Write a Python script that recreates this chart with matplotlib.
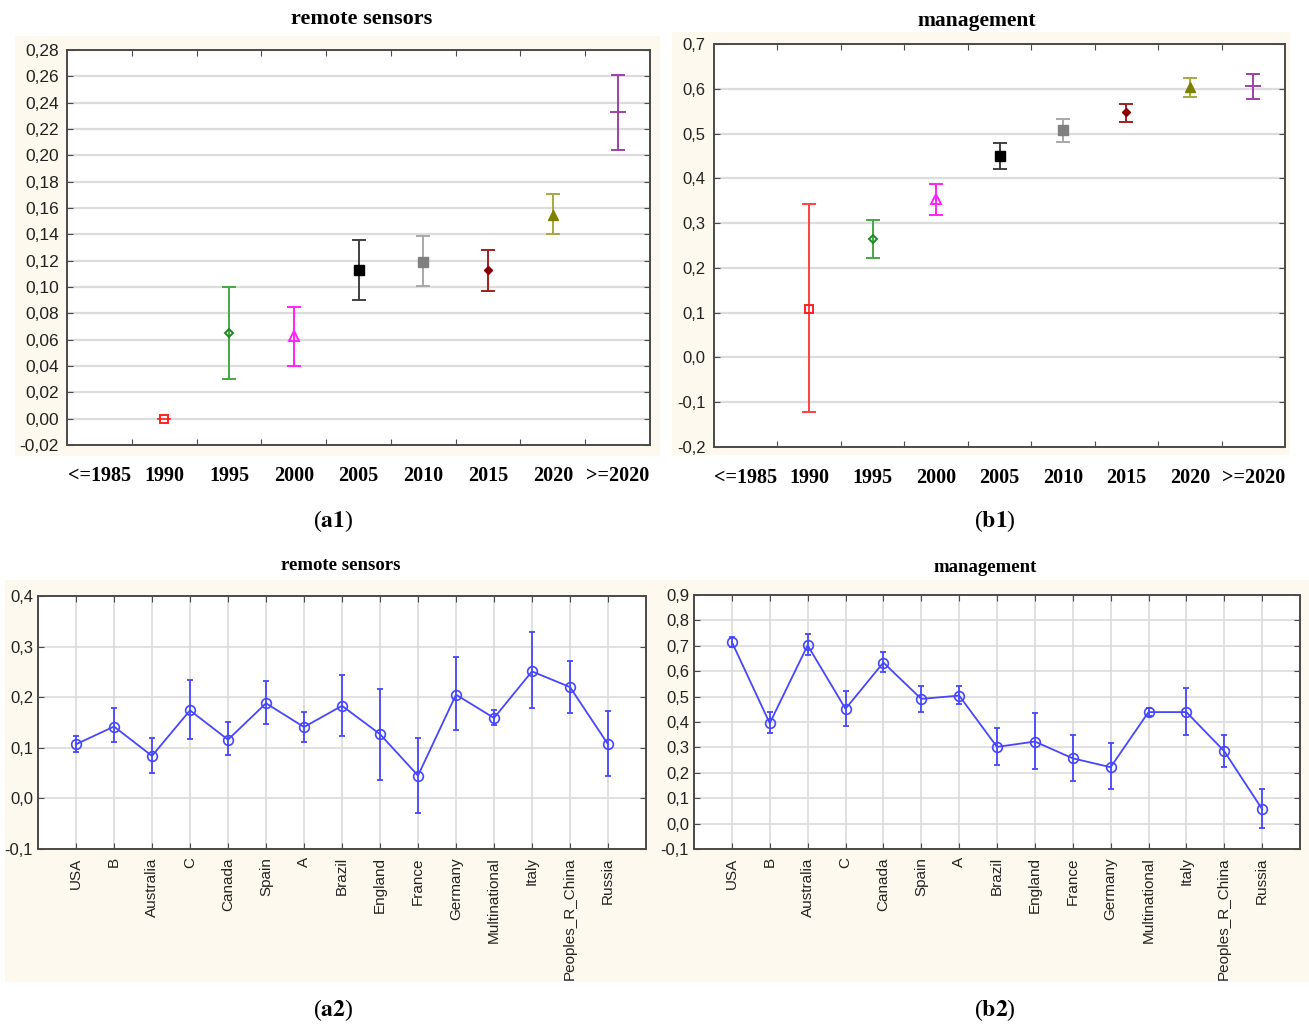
import matplotlib
matplotlib.use("Agg")
import matplotlib.pyplot as plt
import numpy as np
from matplotlib.patches import Rectangle
from matplotlib.ticker import FixedLocator, FuncFormatter

# ---- data ---------------------------------------------------------------
periods = ["<=1985", "1990", "1995", "2000", "2005", "2010", "2015", "2020", ">=2020"]
# periods that actually have a mean (index into periods)
period_idx = [1, 2, 3, 4, 5, 6, 7, 8]

sensors_mean = [0.000, 0.065, 0.063, 0.113, 0.119, 0.113, 0.155, 0.233]
sensors_low = [0.000, 0.030, 0.040, 0.090, 0.101, 0.097, 0.140, 0.204]
sensors_high = [0.000, 0.100, 0.085, 0.136, 0.139, 0.128, 0.171, 0.261]

mgmt_mean = [0.109, 0.265, 0.353, 0.449, 0.507, 0.548, 0.603, 0.607]
mgmt_low = [-0.121, 0.221, 0.318, 0.420, 0.482, 0.526, 0.582, 0.577]
mgmt_high = [0.343, 0.308, 0.388, 0.480, 0.533, 0.566, 0.623, 0.634]

countries = ["USA", "B", "Australia", "C", "Canada", "Spain", "A", "Brazil",
             "England", "France", "Germany", "Multinational", "Italy",
             "Peoples_R_China", "Russia"]

country_sensors_mean = [0.107, 0.142, 0.084, 0.174, 0.116, 0.188, 0.141, 0.183,
                        0.127, 0.045, 0.205, 0.159, 0.251, 0.220, 0.107]
country_sensors_low = [0.092, 0.111, 0.051, 0.118, 0.086, 0.147, 0.112, 0.123,
                       0.037, -0.028, 0.135, 0.145, 0.178, 0.168, 0.045]
country_sensors_high = [0.123, 0.178, 0.120, 0.234, 0.151, 0.232, 0.170, 0.243,
                        0.217, 0.119, 0.280, 0.175, 0.328, 0.272, 0.172]

country_mgmt_mean = [0.715, 0.395, 0.702, 0.452, 0.634, 0.491, 0.504, 0.302,
                     0.323, 0.257, 0.222, 0.439, 0.439, 0.285, 0.057]
country_mgmt_low = [0.697, 0.355, 0.664, 0.385, 0.596, 0.439, 0.470, 0.230,
                    0.216, 0.169, 0.136, 0.422, 0.348, 0.224, -0.017]
country_mgmt_high = [0.736, 0.440, 0.747, 0.524, 0.677, 0.541, 0.541, 0.378,
                     0.437, 0.350, 0.316, 0.457, 0.533, 0.350, 0.136]

# ---- styles -------------------------------------------------------------
# (line colour, marker, marker face, marker edge, marker size)
period_styles = [
    ("#ff4040", "s", "none", "#ff2020", 6),
    ("#44a844", "D", "none", "#1c8a1c", 4.5),
    ("#ff20ff", "^", "none", "#ff20ff", 6.5),
    ("#404040", "s", "black", "black", 6.5),
    ("#a8a8a8", "s", "#808080", "#808080", 6.5),
    ("#a02020", "D", "#8b0000", "#8b0000", 4.5),
    ("#a8a840", "^", "#808000", "#808000", 6.5),
    ("#a040a8", "_", "#a040a8", "#a040a8", 12),
]

CREAM = "#fdf9ee"
GRID = "#dcdcdc"
SPINE = "#4a4a4a"
BLUE = "#4646ff"
W, H = 1309, 1028

plt.rcParams["font.family"] = ["Liberation Sans", "DejaVu Sans"]
plt.rcParams["mathtext.fontset"] = "stix"

fig = plt.figure(figsize=(W / 100, H / 100), dpi=100, facecolor="white")


def px_axes(left, top, right, bottom):
    return fig.add_axes([left / W, 1 - bottom / H, (right - left) / W, (bottom - top) / H])


def cream_box(x0, y0, x1, y1):
    fig.add_artist(Rectangle((x0 / W, 1 - y1 / H), (x1 - x0) / W, (y1 - y0) / H,
                             transform=fig.transFigure, facecolor=CREAM,
                             edgecolor="none", zorder=-10))


def comma_fmt(decimals):
    return FuncFormatter(lambda v, _: f"{v:.{decimals}f}".replace(".", ","))


def style_frame(ax):
    for sp in ax.spines.values():
        sp.set_color(SPINE)
        sp.set_linewidth(1.4)
    ax.set_axisbelow(True)


def year_panel(ax, mean, low, high, ylim, step, decimals, label_size):
    for i, (m, lo, hi) in enumerate(zip(mean, low, high)):
        color, marker, mfc, mec, ms = period_styles[i]
        x = period_idx[i]
        ax.errorbar([x], [m], yerr=[[m - lo], [hi - m]], fmt="none",
                    ecolor=color, elinewidth=1.4, capsize=4.8, capthick=1.4)
        ax.plot([x], [m], marker=marker, linestyle="none", ms=ms,
                mfc=mfc, mec=mec, mew=1.4 if mfc == "none" or marker == "_" else 1)
    ax.set_xlim(-0.5, len(periods) - 0.5)
    ax.set_ylim(*ylim)
    yt = np.round(np.arange(ylim[0], ylim[1] + step / 2, step), 4)
    ax.set_yticks(yt)
    ax.yaxis.set_major_formatter(comma_fmt(decimals))
    ax.grid(axis="y", color=GRID, linewidth=1.6)
    # boundary ticks without labels, period names at the centres
    ax.xaxis.set_major_locator(FixedLocator(np.arange(0.5, len(periods) - 1, 1.0)))
    ax.xaxis.set_major_formatter(FuncFormatter(lambda v, _: ""))
    ax.xaxis.set_minor_locator(FixedLocator(np.arange(len(periods))))
    ax.set_xticklabels(periods, minor=True, family="Liberation Serif",
                       fontweight="bold", fontsize=14.5)
    ax.tick_params(axis="x", which="major", direction="in", length=4,
                   top=True, bottom=True, color=SPINE)
    ax.tick_params(axis="x", which="minor", length=0, pad=15)
    ax.tick_params(axis="y", direction="in", length=4, left=True, right=True,
                   color=SPINE, labelsize=label_size, labelcolor="#222222", pad=6)
    style_frame(ax)


def country_panel(ax, mean, low, high, ylim, step):
    x = np.arange(len(countries))
    mean = np.array(mean)
    err = [mean - np.array(low), np.array(high) - mean]
    ax.errorbar(x, mean, yerr=err, fmt="none", ecolor=BLUE, elinewidth=1.3,
                capsize=2, capthick=1.3)
    ax.plot(x, mean, color=BLUE, linewidth=1.3, marker="o", ms=7,
            mfc="none", mec=BLUE, mew=1.2)
    ax.set_xlim(-1, len(countries))
    ax.set_ylim(*ylim)
    ax.set_yticks(np.round(np.arange(ylim[0], ylim[1] + step / 2, step), 4))
    ax.yaxis.set_major_formatter(comma_fmt(1))
    ax.set_xticks(x)
    ax.set_xticklabels(countries, rotation=90)
    ax.grid(True, color=GRID, linewidth=1.2)
    ax.tick_params(direction="in", length=4, top=True, right=True, color=SPINE,
                   labelsize=12, labelcolor="#222222")
    ax.tick_params(axis="x", labelsize=11, pad=6)
    style_frame(ax)


# cream panel backgrounds
cream_box(15, 36, 660, 456)
cream_box(672, 32, 1290, 455)
cream_box(5, 580, 655, 982)
cream_box(652, 580, 1309, 982)

ax_a1 = px_axes(67, 50, 650, 445)
year_panel(ax_a1, sensors_mean, sensors_low, sensors_high, (-0.02, 0.28), 0.02, 2, 12.5)

ax_b1 = px_axes(714, 44, 1285, 447)
year_panel(ax_b1, mgmt_mean, mgmt_low, mgmt_high, (-0.2, 0.7), 0.1, 1, 12)

ax_a2 = px_axes(38, 596, 646, 849)
country_panel(ax_a2, country_sensors_mean, country_sensors_low, country_sensors_high,
              (-0.1, 0.4), 0.1)

ax_b2 = px_axes(694, 595, 1300, 849)
country_panel(ax_b2, country_mgmt_mean, country_mgmt_low, country_mgmt_high,
              (-0.1, 0.9), 0.1)

# panel titles
title_kw = dict(ha="center", va="center", family="Liberation Serif", fontweight="bold")
fig.text(362 / W, 1 - 19 / H, "remote sensors", fontsize=16, **title_kw)
fig.text(977 / W, 1 - 21 / H, "management", fontsize=15.5, **title_kw)
fig.text(341 / W, 1 - 566 / H, "remote sensors", fontsize=13.5, **title_kw)
fig.text(985 / W, 1 - 567 / H, "management", fontsize=13.5, **title_kw)

# sub-figure letters
tag_kw = dict(ha="center", va="center", family="Liberation Serif", fontsize=17)
fig.text(333 / W, 1 - 521 / H, r"($\mathbf{a1}$)", **tag_kw)
fig.text(995 / W, 1 - 521 / H, r"($\mathbf{b1}$)", **tag_kw)
fig.text(333 / W, 1 - 1010 / H, r"($\mathbf{a2}$)", **tag_kw)
fig.text(995 / W, 1 - 1010 / H, r"($\mathbf{b2}$)", **tag_kw)

fig.savefig("out.png", dpi=100, facecolor="white")
